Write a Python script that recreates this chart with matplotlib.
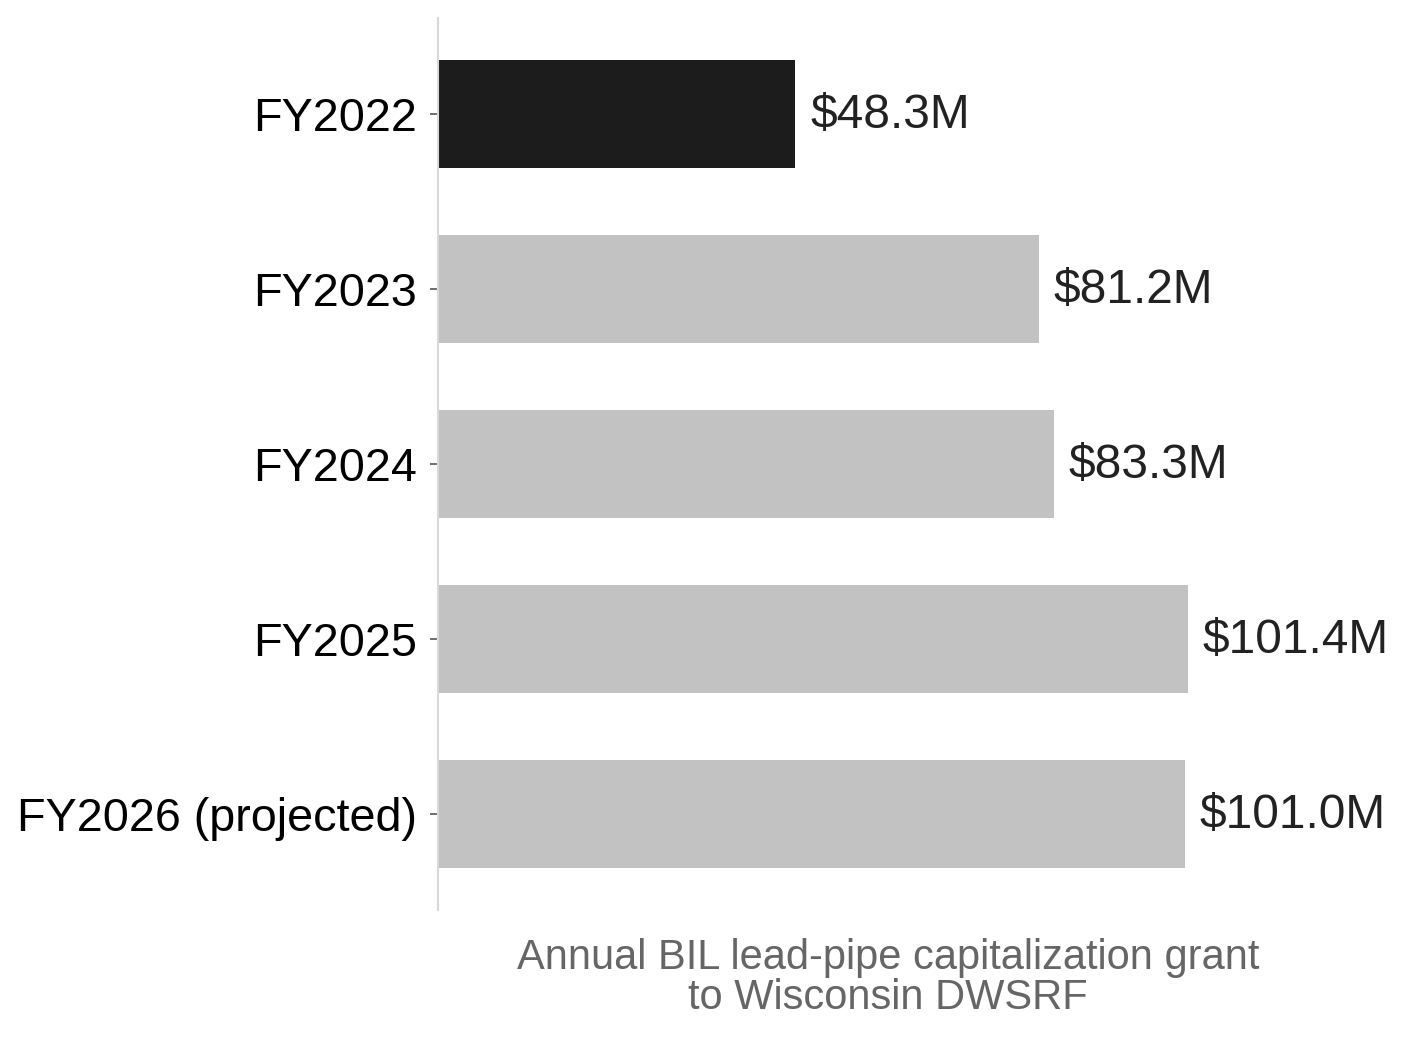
import matplotlib.pyplot as plt

plt.rcParams['font.family'] = ['Liberation Sans', 'DejaVu Sans']

years = ["FY2022", "FY2023", "FY2024", "FY2025", "FY2026 (projected)"]
grants = [48.3, 81.2, 83.3, 101.4, 101.0]
labels = ["$48.3M", "$81.2M", "$83.3M", "$101.4M", "$101.0M"]
colors = ["#1c1c1c", "#c2c2c2", "#c2c2c2", "#c2c2c2", "#c2c2c2"]

fig = plt.figure(figsize=(14.08, 10.4), dpi=100)
ax = fig.add_axes([438/1408, 130/1040, 900/1408, 892/1040])

pos = list(range(len(years)))
ax.barh(pos, grants, height=0.62, color=colors)
for p, v, lab in zip(pos, grants, labels):
    ax.text(v + 2.0, p + 0.01, lab, va="center", ha="left", fontsize=34.5, color="#222222")

ax.set_yticks(pos)
ax.set_yticklabels(years, fontsize=33.7)
ax.set_ylim(4.55, -0.55)
ax.set_xlim(0, max(grants) * 1.2)
ax.set_xticks([])
ax.set_xlabel("Annual BIL lead-pipe capitalization grant\nto Wisconsin DWSRF",
              fontsize=30, color="#666666", labelpad=20, linespacing=1.0)

for s in ["top", "right", "bottom"]:
    ax.spines[s].set_visible(False)
ax.spines["left"].set_color("#d9d9d9")
ax.spines["left"].set_linewidth(1.5)
ax.tick_params(axis="y", length=6, width=1.2, color="#555555", pad=9)

fig.savefig("out.png", dpi=100)
